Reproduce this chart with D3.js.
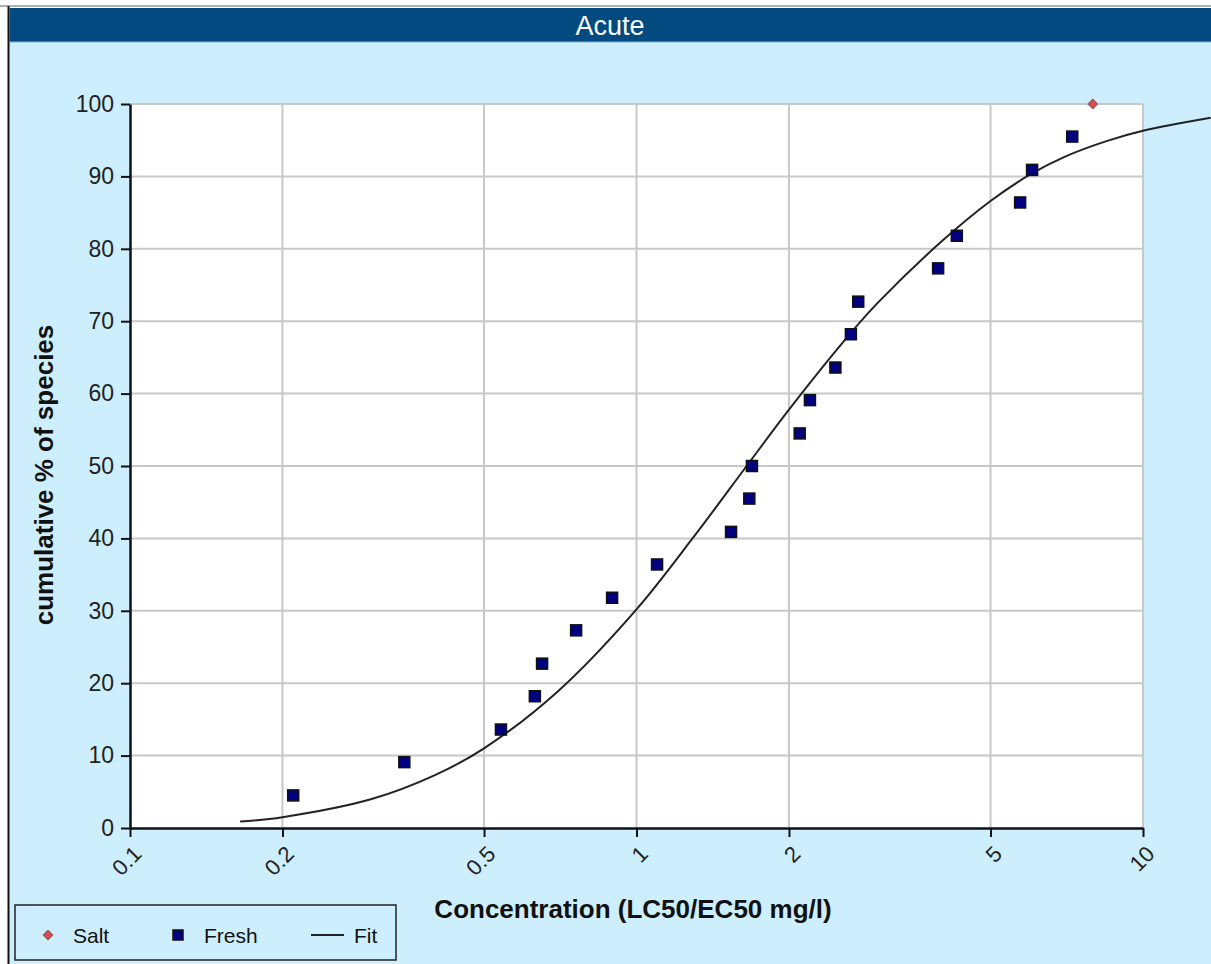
<!DOCTYPE html>
<html>
<head>
<meta charset="utf-8">
<script src="https://cdn.jsdelivr.net/npm/d3@7"></script>
<style>
  html, body { margin: 0; padding: 0; background: #fff; }
  svg { display: block; }
</style>
</head>
<body>
<script>
// values
var freshConc = [0.21, 0.348, 0.54, 0.63, 0.651, 0.76, 0.895, 1.098, 1.537, 1.67, 1.69,
                 2.10, 2.20, 2.47, 2.65, 2.74, 3.94, 4.29, 5.72, 6.04, 7.25];
var freshPct = [4.5, 9.1, 13.6, 18.2, 22.7, 27.3, 31.8, 36.4, 40.9, 45.5, 50,
                54.5, 59.1, 63.6, 68.2, 72.7, 77.3, 81.8, 86.4, 90.9, 95.5];
var saltConc = [7.96];
var saltPct = [100];
var fitConc = [0.165, 0.2, 0.3, 0.4, 0.5, 0.7, 1, 1.3, 1.65, 2, 2.65, 3, 4, 5, 6, 7, 8.5, 10, 13.6];
var fitPct = [0.9, 1.5, 4.0, 7.3, 11.0, 18.9, 30.2, 40.3, 50, 57.8, 68.4, 72.6, 81.0, 86.6, 90.3, 92.7, 94.9, 96.3, 98.1];
var xTicks = [0.1, 0.2, 0.5, 1, 2, 5, 10];
var yTicks = [0, 10, 20, 30, 40, 50, 60, 70, 80, 90, 100];

var W = 1211, H = 964;
var font = "Liberation Sans, Arial, sans-serif";
var svg = d3.select("body").append("svg")
  .attr("width", W)
  .attr("height", H);

// background + frame
svg.append("rect").attr("x", 0).attr("y", 0).attr("width", W).attr("height", H).attr("fill", "#fff");
svg.append("rect").attr("x", 8).attr("y", 8).attr("width", W - 8).attr("height", H - 8).attr("fill", "#cdeefd");
svg.append("line").attr("x1", 0).attr("x2", W).attr("y1", 6).attr("y2", 6)
  .attr("stroke", "#999").attr("stroke-width", 1.5);
svg.append("line").attr("x1", 8.5).attr("x2", 8.5).attr("y1", 6).attr("y2", H)
  .attr("stroke", "#111").attr("stroke-width", 2);

// title bar
svg.append("rect").attr("x", 9.5).attr("y", 8).attr("width", W - 9.5).attr("height", 34).attr("fill", "#024a80");
svg.append("line").attr("x1", 9.5).attr("x2", W).attr("y1", 42).attr("y2", 42)
  .attr("stroke", "#7fb0d0").attr("stroke-width", 1);
svg.append("text")
  .attr("x", 610).attr("y", 35)
  .attr("text-anchor", "middle")
  .attr("font-family", font)
  .attr("font-size", 27)
  .attr("fill", "#fff")
  .text("Acute");

var x = d3.scaleLog().domain([0.1, 10]).range([130, 1143]);
var y = d3.scaleLinear().domain([0, 100]).range([828, 104]);

// plot area
svg.append("rect")
  .attr("x", x(0.1)).attr("y", y(100))
  .attr("width", x(10) - x(0.1)).attr("height", y(0) - y(100))
  .attr("fill", "#fff");

var grid = svg.append("g");
grid.selectAll("line.h").data(yTicks.slice(1)).enter().append("line")
  .attr("x1", x(0.1)).attr("x2", x(10))
  .attr("y1", d => y(d)).attr("y2", d => y(d))
  .attr("stroke", "#c8c8c8").attr("stroke-width", 2);
grid.selectAll("line.v").data(xTicks.slice(1)).enter().append("line")
  .attr("x1", d => x(d)).attr("x2", d => x(d))
  .attr("y1", y(0)).attr("y2", y(100))
  .attr("stroke", "#c8c8c8").attr("stroke-width", 2);

// axes
var xAxis = svg.append("g")
  .attr("transform", "translate(0," + y(0) + ")")
  .call(d3.axisBottom(x).tickValues(xTicks).tickFormat(d3.format("")).tickSize(9).tickSizeOuter(0));
xAxis.select(".domain").attr("stroke", "#111").attr("stroke-width", 2.5);
xAxis.selectAll(".tick line").attr("stroke", "#111").attr("stroke-width", 2);
xAxis.selectAll(".tick text")
  .attr("font-family", font)
  .attr("font-size", 22)
  .attr("fill", "#222")
  .attr("text-anchor", "end")
  .attr("y", 0)
  .attr("dy", "0.35em")
  .attr("transform", "translate(7,22) rotate(-45)");

var yAxis = svg.append("g")
  .attr("transform", "translate(" + x(0.1) + ",0)")
  .call(d3.axisLeft(y).tickValues(yTicks).tickSize(9).tickSizeOuter(0));
yAxis.select(".domain").attr("stroke", "#111").attr("stroke-width", 2.5);
yAxis.selectAll(".tick line").attr("stroke", "#111").attr("stroke-width", 2);
yAxis.selectAll(".tick text")
  .attr("font-family", font)
  .attr("font-size", 23)
  .attr("fill", "#222")
  .attr("x", -16);

// axis titles
svg.append("text")
  .attr("x", 633).attr("y", 918)
  .attr("text-anchor", "middle")
  .attr("font-family", font)
  .attr("font-weight", "bold")
  .attr("font-size", 26)
  .attr("fill", "#111")
  .text("Concentration (LC50/EC50 mg/l)");
svg.append("text")
  .attr("transform", "translate(53,475) rotate(-90)")
  .attr("text-anchor", "middle")
  .attr("font-family", font)
  .attr("font-weight", "bold")
  .attr("font-size", 26)
  .attr("fill", "#111")
  .text("cumulative % of species");

// fit curve
var fitData = fitConc.map((c, i) => [c, fitPct[i]]);
svg.append("path")
  .datum(fitData)
  .attr("fill", "none")
  .attr("stroke", "#222")
  .attr("stroke-width", 2)
  .attr("d", d3.line().x(d => x(d[0])).y(d => y(d[1])).curve(d3.curveCatmullRom.alpha(0.5)));

// fresh points
var fresh = freshConc.map((c, i) => [c, freshPct[i]]);
svg.selectAll("rect.fresh").data(fresh).enter().append("rect")
  .attr("class", "fresh")
  .attr("x", d => x(d[0]) - 5.5).attr("y", d => y(d[1]) - 5.5)
  .attr("width", 11).attr("height", 11)
  .attr("fill", "#000080")
  .attr("stroke", "#111").attr("stroke-width", 1.5);

// salt points
var diamond = d3.symbol().type(d3.symbolSquare).size(45);
var salt = saltConc.map((c, i) => [c, saltPct[i]]);
svg.selectAll("path.salt").data(salt).enter().append("path")
  .attr("class", "salt")
  .attr("d", diamond)
  .attr("transform", d => "translate(" + x(d[0]) + "," + y(d[1]) + ") rotate(45)")
  .attr("fill", "#e04a4a")
  .attr("stroke", "#8a5a5a").attr("stroke-width", 1);

// legend
var legend = svg.append("g");
legend.append("rect")
  .attr("x", 15).attr("y", 905).attr("width", 381).attr("height", 55)
  .attr("fill", "#cdeefd").attr("stroke", "#222").attr("stroke-width", 1.5);
legend.append("path")
  .attr("d", diamond)
  .attr("transform", "translate(48,935) rotate(45)")
  .attr("fill", "#e04a4a").attr("stroke", "#8a5a5a");
legend.append("rect")
  .attr("x", 173).attr("y", 930).attr("width", 10).attr("height", 10)
  .attr("fill", "#000080").attr("stroke", "#111").attr("stroke-width", 1.5);
legend.append("line")
  .attr("x1", 311).attr("x2", 344).attr("y1", 935).attr("y2", 935)
  .attr("stroke", "#222").attr("stroke-width", 2);
var legendLabels = [["Salt", 73], ["Fresh", 204], ["Fit", 354]];
legend.selectAll("text").data(legendLabels).enter().append("text")
  .attr("x", d => d[1]).attr("y", 943)
  .attr("font-family", font)
  .attr("font-size", 21)
  .attr("fill", "#111")
  .text(d => d[0]);
</script>
</body>
</html>
